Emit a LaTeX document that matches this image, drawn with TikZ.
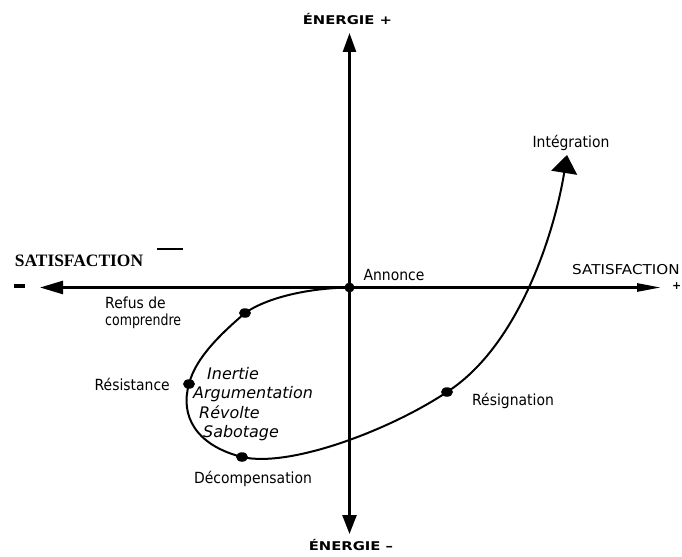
\documentclass[tikz,border=0pt]{standalone}
\usepackage{fontspec}
\usepackage{graphicx}
\setmainfont{DejaVu Sans}
\newfontfamily\serifbold{Liberation Serif}
\usetikzlibrary{arrows.meta,shapes.geometric}
\begin{document}
\begin{tikzpicture}[x=1bp,y=-1bp,
  lab/.style={font=\fontsize{14}{16}\selectfont, inner sep=0pt},
  ilab/.style={font=\fontsize{16}{18}\selectfont\itshape, inner sep=0pt},
  axlab/.style={font=\fontsize{11}{13}\selectfont\bfseries, inner sep=0pt},
  dot/.style={ellipse, fill=black, minimum width=12bp, minimum height=9.5bp, inner sep=0pt},
  cdot/.style={circle, fill=black, minimum size=10bp, inner sep=0pt},
  axis/.style={line width=2.6bp},
  curve/.style={line width=2bp}]
\clip (0,0) rectangle (682,557);
\fill[white] (0,0) rectangle (682,557);

% centre and points
\node[cdot] (c) at (349.5,287.5) {};
\coordinate (top) at (349.5,33);
\coordinate (bot) at (349.5,534);
\coordinate (lft) at (40,287.5);
\coordinate (rgt) at (661,287.5);

% axes
\draw[axis,-{Triangle[width=13bp,length=19bp]}] (c.center) -- (top);
\draw[axis,-{Triangle[width=14bp,length=19bp]}] (c.center) -- (bot);
\draw[axis,-{Triangle[width=13bp,length=23bp]}] (c.center) -- (lft);
\draw[axis,-{Triangle[width=8bp,length=24bp]}] (c.center) -- (rgt);

% curve points
\node[dot] (d1) at (245,313) {};
\node[dot] (d2) at (189,384) {};
\node[dot] (d3) at (242,457) {};
\node[dot] (d4) at (447,392) {};
\coordinate (tip) at (567,155);

\draw[curve,-{Triangle[width=26bp,length=18bp]}]
  (c.center) .. controls (310,288) and (268,297) .. (d1.center)
  .. controls (228,328) and (196,355) .. (d2.center)
  .. controls (180,415) and (195,445) .. (d3.center)
  .. controls (290,468) and (390,430) .. (d4.center)
  .. controls (520,345) and (555,230) .. (tip);

% axis labels
\node[axlab, anchor=base] (ep) at (347.5,25) {\scalebox{1.35}[1.1]{ÉNERGIE +}};
\node[axlab, anchor=base] (em) at (351,550) {\scalebox{1.35}[1.1]{ÉNERGIE –}};
\node[inner sep=0pt, anchor=base, font=\serifbold\fontsize{17.5}{19}\selectfont\bfseries] (sl) at (79,267) {SATISFACTION};
\draw[line width=1.5bp] (157,249) -- (183,249);
\draw[line width=4bp] (14,286) -- (25,286);
\node[inner sep=0pt, anchor=base west, font=\fontsize{13}{15}\selectfont] (sr) at (572,274) {\scalebox{1.17}[1.05]{SATISFACTION}};
\node[inner sep=0pt, anchor=east, font=\fontsize{11}{13}\selectfont\bfseries] (plus) at (681.5,286) {+};

% labels
\node[lab, anchor=base] (an) at (394,280) {\scalebox{1}[1.1]{Annonce}};
\node[lab, anchor=base] (ig) at (571,148) {\scalebox{1}[1.1]{Intégration}};
\node[lab, anchor=base west] (rf1) at (105,308) {\scalebox{1}[1.1]{Refus de}};
\node[lab, anchor=base west] (rf2) at (105,325) {\scalebox{0.9}[1.1]{comprendre}};
\node[lab, anchor=base east] (rs) at (170,390) {\scalebox{1}[1.1]{Résistance}};
\node[ilab, anchor=base west] (i1) at (207,379) {Inertie};
\node[ilab, anchor=base west] (i2) at (193,398) {Argumentation};
\node[ilab, anchor=base west] (i3) at (199,418) {Révolte};
\node[ilab, anchor=base west] (i4) at (203,437) {Sabotage};
\node[lab, anchor=base] (dc) at (253,483) {\scalebox{1}[1.1]{Décompensation}};
\node[lab, anchor=base] (rg) at (513,405) {\scalebox{1}[1.1]{Résignation}};
\end{tikzpicture}
\end{document}
